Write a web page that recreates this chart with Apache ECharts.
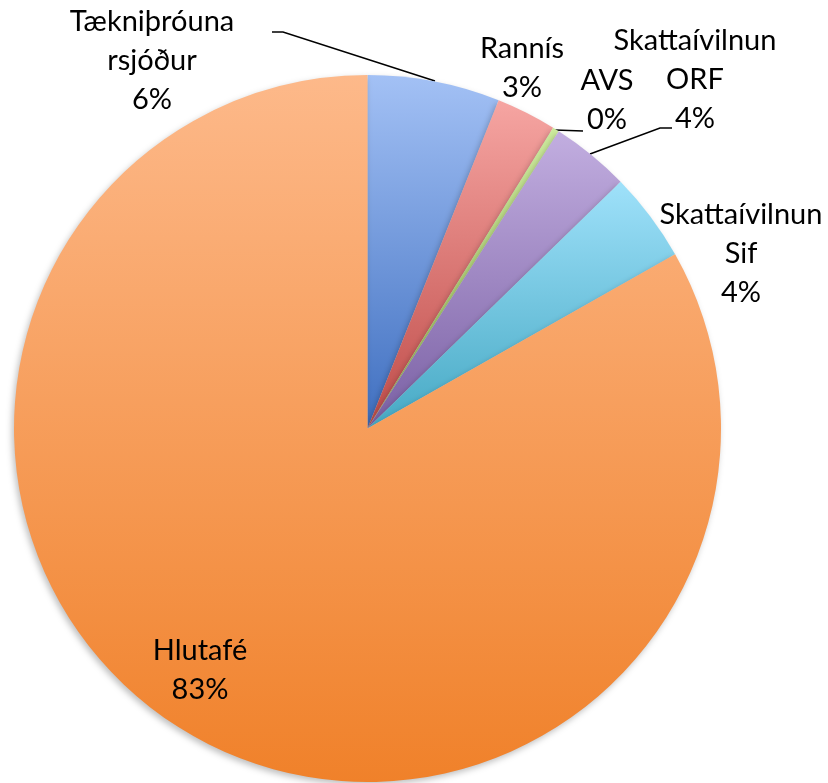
<!DOCTYPE html>
<html>
<head>
    <meta charset="utf-8">
    <title>Fjármögnun</title>
    <script src="https://cdn.jsdelivr.net/npm/echarts@6/dist/echarts.min.js"></script>
    <style>
        html, body { margin: 0; padding: 0; background: #fff; }
        #main { width: 828px; height: 783px; }
    </style>
</head>
<body>
<div id="main"></div>
<script>
    // gögn
    var names = ['Tækniþróuna\nrsjóður', 'Rannís', 'AVS', 'Skattaívilnun\nORF', 'Skattaívilnun\nSif', 'Hlutafé'];
    var values = [6.05, 2.75, 0.3, 3.6, 4.1, 83.2];
    var topColors = ['#a3c1f5', '#f6a5a2', '#cdeb9e', '#c2aee0', '#9fe1fa', '#fdb98a'];
    var bottomColors = ['#3f6fc0', '#bf4c49', '#97b955', '#7a60a4', '#46a9c4', '#f0812a'];

    // label position (center of text block) and leader line per slice
    var labelPos = [
        { x: 152, y: 61, line: [[435, 81], [283, 32], [272, 32]] },
        { x: 522, y: 68 },
        { x: 607, y: 100, line: [[555, 130], [583, 131]] },
        { x: 695, y: 80, line: [[590, 154], [660, 128], [672, 128]] },
        { x: 741, y: 254 },
        { x: 200, y: 670 }
    ];

    var data = names.map(function (n, i) {
        return {
            name: n,
            value: values[i],
            itemStyle: {
                color: new echarts.graphic.LinearGradient(0, 0, 0, 1, [
                    { offset: 0, color: topColors[i] },
                    { offset: 1, color: bottomColors[i] }
                ])
            },
            labelLine: { show: !!labelPos[i].line }
        };
    });

    var myChart = echarts.init(document.getElementById('main'));
    var option = {
        animation: false,
        series: [{
            type: 'pie',
            center: [367.5, 428.5],
            radius: [0, 353.5],
            startAngle: 90,
            clockwise: true,
            avoidLabelOverlap: false,
            data: data,
            itemStyle: {
                borderWidth: 0,
                shadowBlur: 6,
                shadowOffsetX: -2,
                shadowOffsetY: 3,
                shadowColor: 'rgba(0,0,0,0.25)'
            },
            label: {
                show: true,
                position: 'outside',
                formatter: function (p) {
                    return p.name + '\n' + Math.round(p.percent) + '%';
                },
                fontFamily: 'Lato',
                fontSize: 29,
                lineHeight: 39,
                color: '#000',
                align: 'center'
            },
            labelLine: {
                lineStyle: { color: '#000', width: 1.5 }
            },
            labelLayout: function (params) {
                var p = labelPos[params.dataIndex];
                var res = { x: p.x, y: p.y, align: 'center', verticalAlign: 'middle' };
                if (p.line) res.labelLinePoints = p.line;
                return res;
            }
        }]
    };
    myChart.setOption(option);
</script>
</body>
</html>
